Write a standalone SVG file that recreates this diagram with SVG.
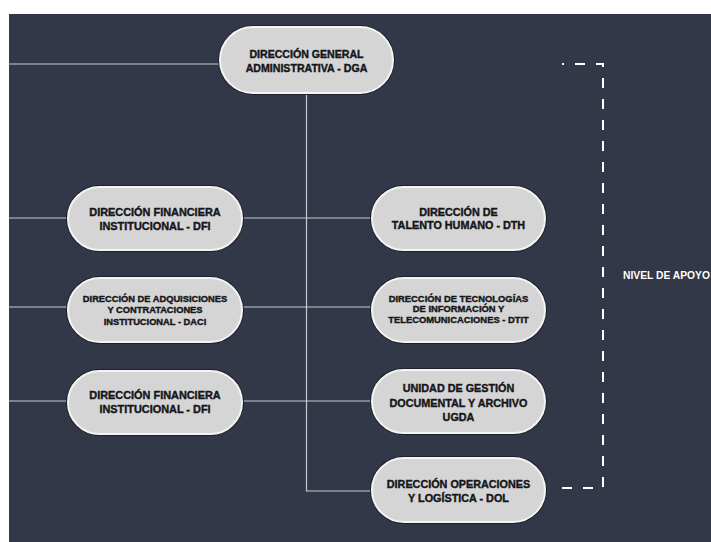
<svg xmlns="http://www.w3.org/2000/svg" width="711" height="542" viewBox="0 0 711 542">
<defs>
<style>
.bg{fill:#323847}
.conn line,.conn path{stroke:#c5c9d1;stroke-width:1.2;fill:none}
.pill{fill:#d5d5d5;stroke:#f4f4f4;stroke-width:2}
.shadow{fill:#1d212b}
.t{font-family:"Liberation Sans",Arial,sans-serif;font-weight:bold;fill:#15161a;stroke:#15161a;stroke-width:0.4;text-anchor:middle}
.lbl{font-family:"Liberation Sans",Arial,sans-serif;font-weight:bold;fill:#ffffff;font-size:10.3px}
.dash{stroke:#ffffff;stroke-width:2;fill:none;stroke-dasharray:10 11;stroke-dashoffset:8}
</style>
</defs>
<rect width="711" height="542" fill="#ffffff"/>
<rect class="bg" x="9" y="14" width="702" height="528"/>
<g class="conn" id="connectors">
<line x1="9" y1="64" x2="220" y2="64"/>
<line x1="9" y1="218" x2="372" y2="218"/>
<line x1="9" y1="307" x2="372" y2="307"/>
<line x1="9" y1="401" x2="372" y2="401"/>
<path d="M306.5,93 V491 H372"/>
</g>
<g id="nivel-apoyo">
<path class="dash" d="M562,64 H603 V488 H562"/>
<text class="lbl" x="623" y="279">NIVEL DE APOYO</text>
</g>
<g id="dga">
<rect class="shadow" x="218" y="25" width="177" height="70" rx="35"/>
<rect class="pill" x="220" y="27" width="173" height="66" rx="33"/>
<text class="t" font-size="10.6" x="306.5" y="58">DIRECCIÓN GENERAL</text>
<text class="t" font-size="10.6" x="306.5" y="71.5">ADMINISTRATIVA - DGA</text>
</g>
<g id="dfi1">
<rect class="shadow" x="66" y="185" width="178" height="67" rx="33.5"/>
<rect class="pill" x="68" y="187" width="174" height="63" rx="31.5"/>
<text class="t" font-size="10.9" x="155" y="216">DIRECCIÓN  FINANCIERA</text>
<text class="t" font-size="10.9" x="155" y="229.5">INSTITUCIONAL - DFI</text>
</g>
<g id="daci">
<rect class="shadow" x="66" y="276" width="178" height="68" rx="34"/>
<rect class="pill" x="68" y="278" width="174" height="64" rx="32"/>
<text class="t" font-size="9.3" x="155" y="302">DIRECCIÓN DE ADQUISICIONES</text>
<text class="t" font-size="9.3" x="155" y="313">Y CONTRATACIONES</text>
<text class="t" font-size="9.3" x="155" y="324.5">INSTITUCIONAL - DACI</text>
</g>
<g id="dfi2">
<rect class="shadow" x="66" y="369" width="178" height="67" rx="33.5"/>
<rect class="pill" x="68" y="371" width="174" height="63" rx="31.5"/>
<text class="t" font-size="10.9" x="155" y="399">DIRECCIÓN  FINANCIERA</text>
<text class="t" font-size="10.9" x="155" y="412.5">INSTITUCIONAL - DFI</text>
</g>
<g id="dth">
<rect class="shadow" x="370" y="185" width="177" height="67" rx="33.5"/>
<rect class="pill" x="372" y="187" width="173" height="63" rx="31.5"/>
<text class="t" font-size="10.8" x="458.5" y="216">DIRECCIÓN DE</text>
<text class="t" font-size="10.8" x="458.5" y="228.5">TALENTO HUMANO - DTH</text>
</g>
<g id="dtit">
<rect class="shadow" x="370" y="276" width="177" height="68" rx="34"/>
<rect class="pill" x="372" y="278" width="173" height="64" rx="32"/>
<text class="t" font-size="9.4" x="458.5" y="301.5">DIRECCIÓN DE TECNOLOGÍAS</text>
<text class="t" font-size="9.4" x="458.5" y="312">DE INFORMACIÓN Y</text>
<text class="t" font-size="9.4" x="458.5" y="322.5">TELECOMUNICACIONES - DTIT</text>
</g>
<g id="ugda">
<rect class="shadow" x="370" y="368" width="177" height="67" rx="33.5"/>
<rect class="pill" x="372" y="370" width="173" height="63" rx="31.5"/>
<text class="t" font-size="10.8" x="458.5" y="392">UNIDAD DE GESTIÓN</text>
<text class="t" font-size="10.8" x="458.5" y="406.5">DOCUMENTAL Y ARCHIVO</text>
<text class="t" font-size="10.8" x="458.5" y="421">UGDA</text>
</g>
<g id="dol">
<rect class="shadow" x="370" y="456" width="177" height="68" rx="34"/>
<rect class="pill" x="372" y="458" width="173" height="64" rx="32"/>
<text class="t" font-size="10.8" x="458.5" y="488">DIRECCIÓN OPERACIONES</text>
<text class="t" font-size="10.8" x="458.5" y="501.5">Y LOGÍSTICA - DOL</text>
</g>
</svg>
